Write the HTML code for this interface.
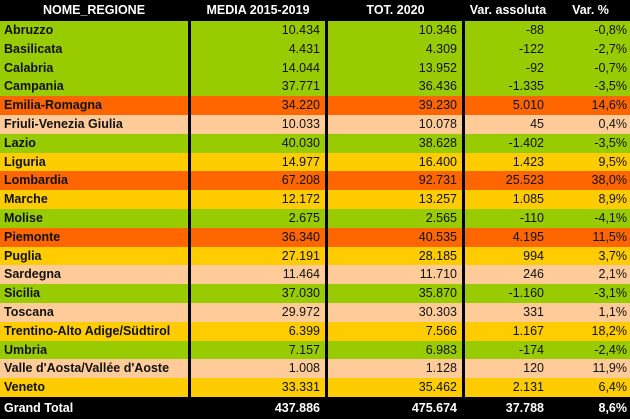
<!DOCTYPE html>
<html><head><meta charset="utf-8"><style>
body{margin:0;width:630px;height:419px;background:#000;overflow:hidden;font-family:"Liberation Sans",Arial,sans-serif;}
#t{position:absolute;left:0;top:0;width:630px;height:419px;}
.r{position:absolute;left:0;width:630px;height:19px;}
.c{position:absolute;top:0;height:100%;line-height:19px;font-size:12.5px;color:#111;white-space:nowrap;box-sizing:border-box;}
.n{font-weight:bold;left:4px;}
.v1{right:310px;text-align:right}
.v2{right:173px;text-align:right}
.v3{right:86px;text-align:right}
.v4{right:3px;text-align:right}
.sep{position:absolute;top:0;width:3px;height:397px;background:#000;}
.h .c,.tot .c{color:#fff;font-weight:bold}
</style></head><body>
<div id="t">
<div class="r h" style="top:0;height:21px">
<div class="c" style="left:0;width:188px;text-align:center;line-height:21px">NOME_REGIONE</div>
<div class="c" style="left:190px;width:136px;text-align:center;line-height:21px">MEDIA 2015-2019</div>
<div class="c" style="left:328px;width:135px;text-align:center;line-height:21px">TOT. 2020</div>
<div class="c" style="left:465px;width:86px;text-align:center;line-height:21px">Var. assoluta</div>
<div class="c" style="left:551px;width:79px;text-align:center;line-height:21px">Var. %</div>
</div>
<div id="rows"></div>
<div class="r tot" style="top:397px;height:22px">
<div class="c n" style="line-height:22px">Grand Total</div>
<div class="c v1" style="line-height:22px">437.886</div>
<div class="c v2" style="line-height:22px">475.674</div>
<div class="c v3" style="line-height:22px">37.788</div>
<div class="c v4" style="line-height:22px">8,6%</div>
</div>
</div>
<script>
const regions=["Abruzzo","Basilicata","Calabria","Campania","Emilia-Romagna","Friuli-Venezia Giulia","Lazio","Liguria","Lombardia","Marche","Molise","Piemonte","Puglia","Sardegna","Sicilia","Toscana","Trentino-Alto Adige/Südtirol","Umbria","Valle d'Aosta/Vallée d'Aoste","Veneto"];
const media=["10.434","4.431","14.044","37.771","34.220","10.033","40.030","14.977","67.208","12.172","2.675","36.340","27.191","11.464","37.030","29.972","6.399","7.157","1.008","33.331"];
const tot2020=["10.346","4.309","13.952","36.436","39.230","10.078","38.628","16.400","92.731","13.257","2.565","40.535","28.185","11.710","35.870","30.303","7.566","6.983","1.128","35.462"];
const varAbs=["-88","-122","-92","-1.335","5.010","45","-1.402","1.423","25.523","1.085","-110","4.195","994","246","-1.160","331","1.167","-174","120","2.131"];
const varPct=["-0,8%","-2,7%","-0,7%","-3,5%","14,6%","0,4%","-3,5%","9,5%","38,0%","8,9%","-4,1%","11,5%","3,7%","2,1%","-3,1%","1,1%","18,2%","-2,4%","11,9%","6,4%"];
function color(p){const v=parseFloat(p.replace(',','.'));if(v<0)return'#99CC00';if(v>=10.5&&v<15&&false)return'';if(v>=11.2&&v<12.5)return'#FFCC99';if(v>=11)return'#FF6600';if(v<3&&v>=0&&v<1)return'#FFCC99';if(v<2.5&&v>=2)return'#FFCC99';if(v<1.5&&v>=1)return'#FFCC99';return'#FFCC00';}
const colors=["#99CC00","#99CC00","#99CC00","#99CC00","#FF6600","#FFCC99","#99CC00","#FFCC00","#FF6600","#FFCC00","#99CC00","#FF6600","#FFCC00","#FFCC99","#99CC00","#FFCC99","#FFCC00","#99CC00","#FFCC99","#FFCC00"];
const rows=document.getElementById('rows');
const top0=21,h=18.8;
regions.forEach((name,i)=>{
const r=document.createElement('div');
r.className='r';


r.style.top=(top0+i*h)+'px';r.style.height=h+'px';r.style.background=colors[i];
const vals=[[name,'n','region-name'],[media[i],'v1','media-value'],[tot2020[i],'v2','tot-2020-value'],[varAbs[i],'v3','var-abs-value'],[varPct[i],'v4','var-pct-value']];
vals.forEach(v=>{const c=document.createElement('div');c.className='c '+v[1];c.textContent=v[0];


c.style.lineHeight=h+'px';r.appendChild(c);});
rows.appendChild(r);
});
[188,325,462].forEach(x=>{const s=document.createElement('div');s.className='sep';s.style.left=x+'px';


document.getElementById('t').appendChild(s);});
</script>
</body></html>
